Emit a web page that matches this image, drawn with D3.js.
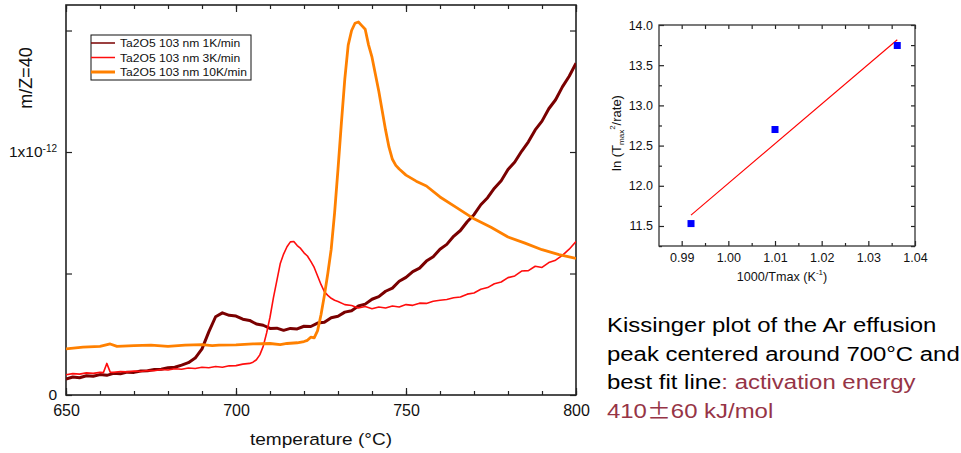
<!DOCTYPE html>
<html>
<head>
<meta charset="utf-8">
<script src="https://cdn.jsdelivr.net/npm/d3@7"></script>
<style>
  body { margin: 0; background: #fff; }
  svg { display: block; font-family: "Liberation Sans", Arial, sans-serif; }
</style>
</head>
<body>
<div id="chart"></div>
<script>
// ---- data (signal in units of 1e-12) ----
const seriesNames = ["Ta2O5 103 nm 1K/min", "Ta2O5 103 nm 3K/min", "Ta2O5 103 nm 10K/min"];
const seriesColors = ["#7a0000", "#ff0d0d", "#ff8000"];

const temp1K = [650, 652, 654, 656, 658, 660, 662, 664, 666, 668, 670, 672, 674, 676, 678, 680, 682, 684, 686, 688,
  690, 692, 694, 696, 698, 700, 702, 704, 706, 708, 710, 712, 714, 716, 718, 720, 722, 724, 726, 728,
  730, 732, 734, 736, 738, 740, 742, 744, 746, 748, 750, 752, 754, 756, 758, 760, 762, 764, 766, 768,
  770, 772, 774, 776, 778, 780, 782, 784, 786, 788, 790, 792, 794, 796, 798, 800];
const signal1K = [0.066, 0.074, 0.071, 0.079, 0.077, 0.084, 0.081, 0.089, 0.087, 0.094, 0.093, 0.099, 0.1, 0.105, 0.106, 0.112, 0.114, 0.123, 0.133, 0.152,
  0.19, 0.26, 0.322, 0.338, 0.328, 0.325, 0.312, 0.307, 0.292, 0.287, 0.274, 0.275, 0.266, 0.274, 0.272, 0.283, 0.282, 0.296, 0.299, 0.318,
  0.324, 0.341, 0.347, 0.366, 0.374, 0.394, 0.405, 0.427, 0.44, 0.468, 0.484, 0.508, 0.522, 0.551, 0.569, 0.6, 0.62, 0.653, 0.677, 0.713,
  0.742, 0.783, 0.812, 0.851, 0.882, 0.928, 0.959, 1.003, 1.042, 1.091, 1.127, 1.178, 1.215, 1.268, 1.312, 1.365];

const temp3K = [650, 652, 654, 656, 658, 660, 661, 662, 663, 664, 666, 668, 670, 672, 674, 676, 678, 680, 682, 684,
  686, 688, 690, 692, 694, 696, 698, 700, 702, 704, 705, 706, 707, 708, 709, 710, 711, 712, 713, 714,
  715, 716, 717, 718, 719, 720, 721, 722, 723, 724, 725, 726, 727, 728, 729, 730, 732, 734, 736, 738,
  740, 742, 744, 746, 748, 750, 752, 754, 756, 758, 760, 762, 764, 766, 768, 770, 772, 774, 776, 778,
  780, 782, 784, 786, 788, 790, 792, 794, 796, 798, 800];
const signal3K = [0.083, 0.088, 0.086, 0.091, 0.089, 0.093, 0.092, 0.13, 0.094, 0.093, 0.097, 0.095, 0.099, 0.097, 0.101, 0.1, 0.105, 0.103, 0.108, 0.106,
  0.111, 0.109, 0.114, 0.112, 0.117, 0.114, 0.12, 0.121, 0.127, 0.13, 0.135, 0.145, 0.165, 0.2, 0.255, 0.32, 0.4, 0.47, 0.54, 0.58,
  0.61, 0.63, 0.632, 0.615, 0.603, 0.585, 0.572, 0.55, 0.525, 0.49, 0.455, 0.425, 0.41, 0.398, 0.39, 0.385, 0.372, 0.368, 0.358, 0.364,
  0.355, 0.362, 0.358, 0.366, 0.362, 0.372, 0.369, 0.378, 0.377, 0.386, 0.39, 0.393, 0.4, 0.403, 0.415, 0.42, 0.435, 0.442, 0.458, 0.465,
  0.483, 0.49, 0.51, 0.512, 0.53, 0.525, 0.545, 0.555, 0.575, 0.6, 0.632];

const temp10K = [650, 655, 660, 663, 665, 670, 675, 680, 685, 690, 693, 695, 700, 705, 710, 713, 715, 718, 720, 721,
  722, 723, 724, 725, 726, 727, 728, 729, 730, 731, 732, 733, 734, 735, 736, 737, 738, 739, 740, 741,
  742, 743, 744, 745, 746, 747, 748, 750, 753, 756, 760, 765, 770, 775, 780, 785, 790, 795, 800];
const signal10K = [0.19, 0.197, 0.2, 0.21, 0.2, 0.203, 0.205, 0.2, 0.205, 0.207, 0.203, 0.205, 0.206, 0.21, 0.212, 0.207, 0.212, 0.215, 0.22, 0.225,
  0.238, 0.235, 0.265, 0.33, 0.41, 0.5, 0.6, 0.75, 0.93, 1.12, 1.3, 1.44, 1.5, 1.53, 1.535, 1.52, 1.505, 1.44, 1.39, 1.32,
  1.25, 1.17, 1.09, 1.02, 0.97, 0.945, 0.93, 0.905, 0.88, 0.86, 0.815, 0.77, 0.725, 0.69, 0.65, 0.625, 0.598, 0.578, 0.562];

const tempMajorTicks = [650, 700, 750, 800];
const signalTicks = [0, 0.5, 1, 1.5];

// Kissinger plot
const invTmax = [0.992, 1.010, 1.0362];
const lnT2rate = [11.53, 12.70, 13.745];
const invTmaxTicks = [0.99, 1.00, 1.01, 1.02, 1.03, 1.04];
const lnTicks = [11.5, 12.0, 12.5, 13.0, 13.5, 14.0];

const series = [
  { name: seriesNames[0], color: seriesColors[0], width: 3, legendWidth: 1.5, pts: d3.zip(temp1K, signal1K) },
  { name: seriesNames[1], color: seriesColors[1], width: 1.6, legendWidth: 1.5, pts: d3.zip(temp3K, signal3K) },
  { name: seriesNames[2], color: seriesColors[2], width: 2.8, legendWidth: 3, pts: d3.zip(temp10K, signal10K) }
];

const svg = d3.select("#chart").append("svg")
  .attr("width", 961)
  .attr("height", 453);

// text stretched horizontally like in the original image
function label(parent, x, y, size, sx) {
  return parent.append("text")
    .attr("transform", `translate(${x},${y}) scale(${sx},1)`)
    .attr("font-size", size)
    .attr("fill", "#111");
}

function styleAxis(g, size) {
  g.select(".domain").remove();
  g.selectAll(".tick line").attr("stroke", "#222").attr("stroke-width", 1.2);
  g.selectAll(".tick text").attr("font-size", size).attr("fill", "#111")
    .attr("font-family", "'Liberation Sans', Arial, sans-serif");
}

// ================= left: TDS curves =================
const x = d3.scaleLinear().domain([650, 800]).range([66, 576]);
const y = d3.scaleLinear().domain([0, 1.605]).range([395, 5]);
const left = svg.append("g");

// minor ticks every 10 °C, bottom and top
left.append("g").attr("transform", "translate(0,395)")
  .call(d3.axisBottom(x).tickValues(d3.range(650, 801, 10)).tickSize(-4).tickFormat(""))
  .call(g => styleAxis(g, 16));
left.append("g").attr("transform", "translate(0,5)")
  .call(d3.axisTop(x).tickValues(d3.range(650, 801, 10)).tickSize(-4).tickFormat(""))
  .call(g => styleAxis(g, 16));
left.append("g").attr("transform", "translate(0,395)")
  .call(d3.axisBottom(x).tickValues(tempMajorTicks).tickSize(-7).tickPadding(10).tickFormat(d3.format("d")))
  .call(g => styleAxis(g, 16));
left.append("g").attr("transform", "translate(0,5)")
  .call(d3.axisTop(x).tickValues(tempMajorTicks).tickSize(-7).tickFormat(""))
  .call(g => styleAxis(g, 16));

const yAxis = left.append("g").attr("transform", "translate(66,0)")
  .call(d3.axisLeft(y).tickValues(signalTicks).tickSize(-6).tickPadding(9)
    .tickFormat(d => d === 0 ? "0" : ""))
  .call(g => styleAxis(g, 15.5));
yAxis.selectAll(".tick").filter(d => d === 1).select("text")
  .call(t => {
    t.append("tspan").text("1x10");
    t.append("tspan").attr("font-size", 10).attr("dy", "-0.55em").text("-12");
  });
left.append("g").attr("transform", "translate(576,0)")
  .call(d3.axisRight(y).tickValues(signalTicks).tickSize(-6).tickFormat(""))
  .call(g => styleAxis(g, 15));

left.append("rect")
  .attr("x", 66).attr("y", 5)
  .attr("width", 510).attr("height", 390)
  .attr("fill", "none").attr("stroke", "#222").attr("stroke-width", 1.6);

svg.append("clipPath").attr("id", "clipL")
  .append("rect").attr("x", 66).attr("y", 5).attr("width", 510).attr("height", 390);

const line = d3.line().x(d => x(d[0])).y(d => y(d[1]));

left.append("g").attr("clip-path", "url(#clipL)")
  .selectAll("path")
  .data(series)
  .enter()
  .append("path")
  .attr("d", d => line(d.pts))
  .attr("fill", "none")
  .attr("stroke", d => d.color)
  .attr("stroke-width", d => d.width)
  .attr("stroke-linejoin", "round");

// legend
const legend = left.append("g");
legend.append("rect")
  .attr("x", 91).attr("y", 35).attr("width", 160).attr("height", 45)
  .attr("fill", "#fff").attr("stroke", "#111").attr("stroke-width", 1);
series.forEach((s, i) => {
  const ly = 43 + i * 14.5;
  legend.append("line")
    .attr("x1", 91).attr("x2", 115).attr("y1", ly).attr("y2", ly)
    .attr("stroke", s.color).attr("stroke-width", s.legendWidth);
  label(legend, 120, ly + 4, 11, 1.1).text(s.name);
});

// axis titles
label(left, 321, 445, 16.3, 1.17).attr("text-anchor", "middle").text("temperature (°C)");
left.append("text")
  .attr("transform", "translate(32,78) rotate(-90)")
  .attr("text-anchor", "middle")
  .attr("font-size", 18)
  .attr("fill", "#111")
  .text("m/Z=40");

// ================= right: Kissinger plot =================
const kx = d3.scaleLinear().domain([0.98514, 1.04]).range([659, 915]);
const ky = d3.scaleLinear().domain([11.251, 14.0]).range([246, 25]);
const right = svg.append("g");

const kxMinor = invTmaxTicks.slice(0, -1).map(v => v + 0.005);
const kyMinor = lnTicks.slice(0, -1).map(v => v + 0.25).concat([11.25]);

right.append("g").attr("transform", "translate(0,246)")
  .call(d3.axisBottom(kx).tickValues(invTmaxTicks).tickSize(-5).tickPadding(7).tickFormat(d3.format(".2f")))
  .call(g => styleAxis(g, 12.5));
right.append("g").attr("transform", "translate(0,246)")
  .call(d3.axisBottom(kx).tickValues(kxMinor).tickSize(-3).tickFormat(""))
  .call(g => styleAxis(g, 12.5));
right.append("g").attr("transform", "translate(0,25)")
  .call(d3.axisTop(kx).tickValues(invTmaxTicks.concat(kxMinor)).tickSize(-4).tickFormat(""))
  .call(g => styleAxis(g, 12.5));
right.append("g").attr("transform", "translate(659,0)")
  .call(d3.axisLeft(ky).tickValues(lnTicks).tickSize(-5).tickPadding(6).tickFormat(d3.format(".1f")))
  .call(g => styleAxis(g, 12.5));
right.append("g").attr("transform", "translate(659,0)")
  .call(d3.axisLeft(ky).tickValues(kyMinor).tickSize(-3).tickFormat(""))
  .call(g => styleAxis(g, 12.5));
right.append("g").attr("transform", "translate(915,0)")
  .call(d3.axisRight(ky).tickValues(lnTicks.concat(kyMinor)).tickSize(-4).tickFormat(""))
  .call(g => styleAxis(g, 12.5));

right.append("rect")
  .attr("x", 659).attr("y", 25)
  .attr("width", 256).attr("height", 221)
  .attr("fill", "none").attr("stroke", "#333").attr("stroke-width", 1.3);

// least squares fit through the three points
const mx = d3.mean(invTmax), my = d3.mean(lnT2rate);
const slope = d3.sum(invTmax, (v, i) => (v - mx) * (lnT2rate[i] - my)) /
              d3.sum(invTmax, v => (v - mx) * (v - mx));
const fit = d3.extent(invTmax).map(v => [v, my + slope * (v - mx)]);
right.append("path")
  .attr("d", d3.line().x(d => kx(d[0])).y(d => ky(d[1]))(fit))
  .attr("fill", "none")
  .attr("stroke", "#ff0000")
  .attr("stroke-width", 1.1);

right.selectAll("rect.pt")
  .data(d3.zip(invTmax, lnT2rate))
  .enter()
  .append("rect")
  .attr("class", "pt")
  .attr("x", d => kx(d[0]) - 3.5)
  .attr("y", d => ky(d[1]) - 3.5)
  .attr("width", 7).attr("height", 7)
  .attr("fill", "#0000ff");

// titles
const kxt = label(right, 782, 281, 12.6, 1).attr("text-anchor", "middle");
kxt.append("tspan").text("1000/Tmax (K");
kxt.append("tspan").attr("font-size", 8).attr("dy", "-0.7em").text("-1");
kxt.append("tspan").attr("dy", "0.45em").text(")");

const kyt = right.append("text")
  .attr("transform", "translate(621,133) rotate(-90)")
  .attr("text-anchor", "middle")
  .attr("font-size", 13)
  .attr("fill", "#111");
kyt.append("tspan").text("ln (T");
kyt.append("tspan").attr("font-size", 8).attr("dy", "0.35em").text("max");
kyt.append("tspan").attr("font-size", 8).attr("dy", "-1.1em").text("2");
kyt.append("tspan").attr("dy", "0.45em").text("/rate)");

// ================= caption =================
const accent = "#963446";
const caption = svg.append("g");
label(caption, 607, 332, 21, 1.14).attr("fill", "#000").text("Kissinger plot of the Ar effusion");
label(caption, 607, 361, 21, 1.14).attr("fill", "#000").text("peak centered around 700°C and");
const c3 = label(caption, 607, 389, 21, 1.14).attr("fill", "#000");
c3.append("tspan").text("best fit line");
c3.append("tspan").attr("fill", accent).text(": activation energy");
const c4 = label(caption, 607, 418, 21, 1.14).attr("fill", accent);
c4.append("tspan").text("410");
c4.append("tspan").attr("font-family", "'Noto Sans CJK SC', sans-serif").text("±");
c4.append("tspan").text("60 kJ/mol");
</script>
</body>
</html>
